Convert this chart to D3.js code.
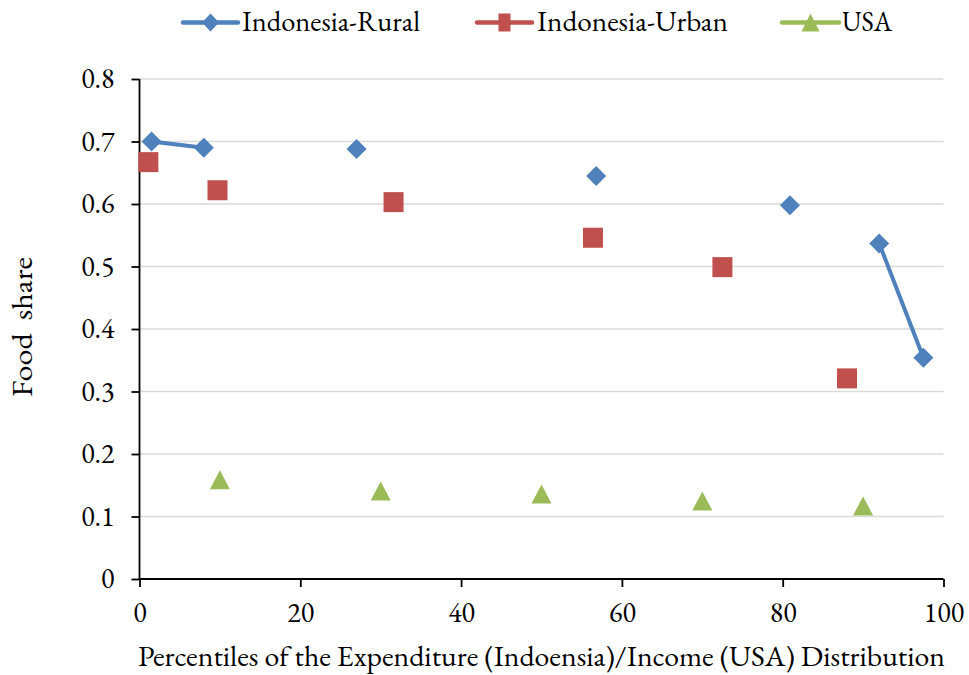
<!DOCTYPE html>
<html><head><meta charset="utf-8">
<script src="https://cdn.jsdelivr.net/npm/d3@7"></script>
<style>body{margin:0;background:#fff}svg{display:block}</style>
</head><body><svg id="c" width="969" height="675"></svg>
<script>
// Data (null = gap in series, like an empty cell)
const ruralX = [1.5, 8.0, null, 27.0, null, 56.8, null, 80.9, null, 92.0, 97.5];
const ruralY = [0.700, 0.690, null, 0.688, null, 0.645, null, 0.598, null, 0.537, 0.354];
const urbanX = [1.1, 9.7, 31.6, 56.4, 72.5, 88.0];
const urbanY = [0.667, 0.622, 0.603, 0.546, 0.499, 0.321];
const usaX = [10, 30, 50, 70, 90];
const usaY = [0.159, 0.141, 0.136, 0.125, 0.117];
const xTicks = [0, 20, 40, 60, 80, 100];
const yTicks = [0, 0.1, 0.2, 0.3, 0.4, 0.5, 0.6, 0.7, 0.8];
const seriesNames = ["Indonesia-Rural", "Indonesia-Urban", "USA"];
const colors = ["#4F81BD", "#C0504D", "#9BBB59"];

const FONT = "EB Garamond";
const svg = d3.select("#c");
const x = d3.scaleLinear().domain([0, 100]).range([139.5, 943.5]);
const y = d3.scaleLinear().domain([0, 0.8]).range([579, 79]);

// gridlines
svg.append("g").selectAll("line").data(yTicks.filter(d => d > 0)).join("line")
  .attr("x1", x(0)).attr("x2", x(100)).attr("y1", d => y(d)).attr("y2", d => y(d))
  .attr("stroke", "#d9d9d9").attr("stroke-width", 1.5);

// axes
const yAxis = svg.append("g").attr("transform", `translate(${x(0)},0)`)
  .call(d3.axisLeft(y).tickValues(yTicks).tickSize(8).tickPadding(17).tickFormat(d => d === 0 ? "0" : d3.format(".1f")(d)));
const xAxis = svg.append("g").attr("transform", `translate(0,${y(0)})`)
  .call(d3.axisBottom(x).tickValues(xTicks).tickSize(8).tickPadding(15).tickFormat(d3.format("d")));
[xAxis, yAxis].forEach(a => {
  a.attr("font-family", FONT).attr("font-size", 28);
  a.select(".domain").attr("stroke", "#000").attr("stroke-width", 1.8);
  a.selectAll(".tick line").attr("stroke", "#000").attr("stroke-width", 1.8);
  a.selectAll("text").attr("font-family", FONT).attr("font-size", 28).attr("fill", "#000");
});
xAxis.select(".domain").attr("d", `M${x(0)},0H${x(100)}`);
yAxis.select(".domain").attr("d", `M0,${y(0)}V${y(0.8)}`);

// axis titles
svg.append("text").attr("x", 541.5).attr("y", 666).attr("text-anchor", "middle")
  .attr("textLength", 807).attr("lengthAdjust", "spacingAndGlyphs")
  .attr("font-family", FONT).attr("font-size", 29).attr("fill", "#000")
  .text("Percentiles of the Expenditure (Indoensia)/Income (USA) Distribution");
svg.append("text").attr("transform", `translate(32,327) rotate(-90)`)
  .attr("text-anchor", "middle").attr("textLength", 140).attr("lengthAdjust", "spacingAndGlyphs")
  .attr("font-family", FONT).attr("font-size", 29).attr("fill", "#000")
  .attr("xml:space", "preserve").style("white-space", "pre").text("Food  share");

// symbols
function drawDiamond(g, cx, cy, w, h) {
  g.append("path").attr("d", `M${cx},${cy - h}L${cx + w},${cy}L${cx},${cy + h}L${cx - w},${cy}Z`).attr("fill", colors[0]);
}
function drawSquare(g, cx, cy, w, h) {
  g.append("rect").attr("x", cx - w).attr("y", cy - h).attr("width", 2 * w).attr("height", 2 * h).attr("fill", colors[1]);
}
function drawTri(g, cx, cy, w, h) {
  g.append("path").attr("d", `M${cx},${cy - h}L${cx + w},${cy + h}L${cx - w},${cy + h}Z`).attr("fill", colors[2]);
}

// rural line with gaps
const ruralData = ruralX.map((d, i) => ({x: d, y: ruralY[i]}));
const line = d3.line().defined(d => d.x !== null && d.y !== null).x(d => x(d.x)).y(d => y(d.y));
svg.append("path").datum(ruralData).attr("d", line).attr("fill", "none")
  .attr("stroke", colors[0]).attr("stroke-width", 4).attr("stroke-linejoin", "round");

const marks = svg.append("g");
ruralData.filter(d => d.x !== null).forEach(d => drawDiamond(marks, x(d.x), y(d.y), 10, 10));
urbanX.forEach((d, i) => drawSquare(marks, x(d), y(urbanY[i]), 10, 10));
usaX.forEach((d, i) => drawTri(marks, x(d), y(usaY[i]), 10, 9.5));

// legend
const legLine = [[183, 238], [477, 532], [782, 839]];
const legText = [[242, 178], [537, 191], [842, 50]];
const leg = svg.append("g");
seriesNames.forEach((n, i) => {
  const ly = 22.5;
  const [a, b] = legLine[i];
  leg.append("line").attr("x1", a).attr("x2", b).attr("y1", ly).attr("y2", ly)
    .attr("stroke", colors[i]).attr("stroke-width", 4.5).attr("stroke-linecap", "round");
  const cx = (a + b) / 2;
  if (i === 0) drawDiamond(leg, cx, ly, 8.5, 9);
  else if (i === 1) drawSquare(leg, cx, ly, 6, 9);
  else drawTri(leg, cx, ly, 9, 9);
  leg.append("text").attr("x", legText[i][0]).attr("y", 31)
    .attr("textLength", legText[i][1]).attr("lengthAdjust", "spacingAndGlyphs")
    .attr("font-family", FONT).attr("font-size", 29).attr("fill", "#000").text(n);
});
</script></body></html>
